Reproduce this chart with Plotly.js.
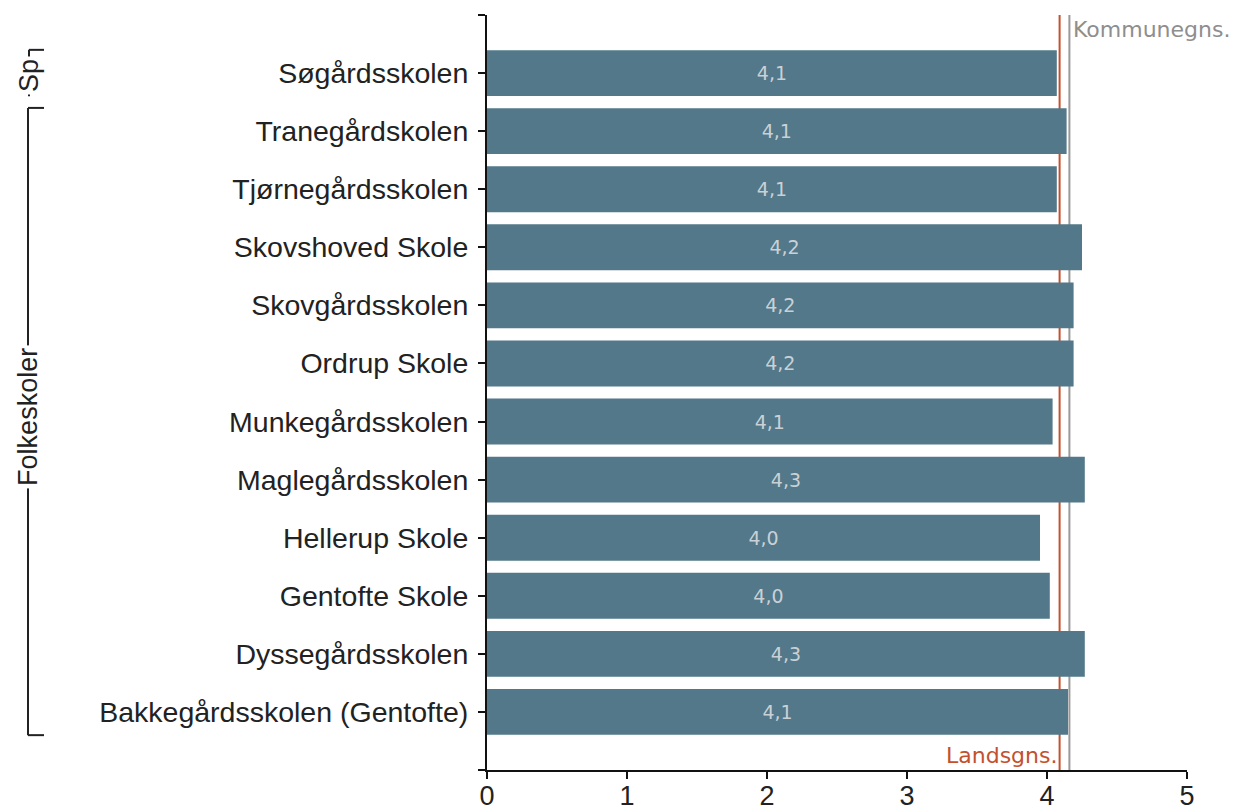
<!DOCTYPE html>
<html>
<head>
<meta charset="utf-8">
<script src="https://cdn.plot.ly/plotly-3.0.1.min.js"></script>
<style>html,body{margin:0;padding:0;background:#fff;}#chart{width:1239px;height:812px;}</style>
</head>
<body>
<div id="chart"></div>
<script>
// ---- data ----
const schools = [
  "Søgårdsskolen",
  "Tranegårdskolen",
  "Tjørnegårdsskolen",
  "Skovshoved Skole",
  "Skovgårdsskolen",
  "Ordrup Skole",
  "Munkegårdsskolen",
  "Maglegårdsskolen",
  "Hellerup Skole",
  "Gentofte Skole",
  "Dyssegårdsskolen",
  "Bakkegårdsskolen (Gentofte)"
];
const values = [4.07, 4.14, 4.07, 4.25, 4.19, 4.19, 4.04, 4.27, 3.95, 4.02, 4.27, 4.15];
const valueLabels = ["4,1","4,1","4,1","4,2","4,2","4,2","4,1","4,3","4,0","4,0","4,3","4,1"];
const landsgns = 4.09;
const kommunegns = 4.16;
const groupNames = ["Sp", "Folkeskoler"];
const groupStart = [0, 1];
const groupEnd = [0, 11];
const xTicks = [0, 1, 2, 3, 4, 5];

// ---- layout helpers ----
const L = 487, R = 52, T = 15, B = 42, W = 1239, H = 812;
const plotW = W - L - R;
const px2paper = p => (p - L) / plotW;

const idx = schools.map((_, i) => i);
const tickvals = [-1].concat(idx).concat([schools.length]);
const ticktext = [""].concat(schools).concat([""]);

const trace = {
  type: "bar",
  orientation: "h",
  x: values,
  y: idx,
  width: 0.79,
  marker: {color: "#52788a", line: {width: 0}},
  text: valueLabels,
  textposition: "inside",
  insidetextanchor: "middle",
  textangle: 0,
  constraintext: "none",
  textfont: {family: "DejaVu Sans, Verdana, sans-serif", size: 19, color: "#c9d1d6"},
  hoverinfo: "skip",
  cliponaxis: false
};

const shapes = [
  {type: "line", xref: "x", yref: "paper", x0: landsgns, x1: landsgns, y0: 0, y1: 1,
   line: {color: "#c4502c", width: 2}, layer: "below"},
  {type: "line", xref: "x", yref: "paper", x0: kommunegns, x1: kommunegns, y0: 0, y1: 1,
   line: {color: "#9a9a9a", width: 2}, layer: "below"}
];
const annotations = [
  {xref: "x", yref: "paper", x: kommunegns, y: 1 - (30 - T) / (H - T - B), xanchor: "left", yanchor: "middle",
   xshift: 2, text: "Kommunegns.", showarrow: false,
   font: {family: "DejaVu Sans, Verdana, sans-serif", size: 22, color: "#8e8e8e"}},
  {xref: "x", yref: "paper", x: landsgns, y: (H - B - 755) / (H - T - B), xanchor: "right", yanchor: "middle",
   xshift: -1, text: "Landsgns.", showarrow: false,
   font: {family: "DejaVu Sans, Verdana, sans-serif", size: 22, color: "#c4502c"}}
];

// group brackets
const bx = [px2paper(29), px2paper(28)];
groupNames.forEach((g, k) => {
  const y0 = groupStart[k] - 0.4, y1 = groupEnd[k] + 0.4;
  const xv = bx[k], xt = px2paper(44);
  shapes.push({type: "line", xref: "paper", yref: "y", x0: xv, x1: xv, y0: y0, y1: y1,
               line: {color: "#222", width: 2}});
  shapes.push({type: "line", xref: "paper", yref: "y", x0: xv, x1: xt, y0: y0, y1: y0,
               line: {color: "#222", width: 2}});
  if (k > 0) {
    shapes.push({type: "line", xref: "paper", yref: "y", x0: xv, x1: xt, y0: y1, y1: y1,
                 line: {color: "#222", width: 2}});
  }
  annotations.push({xref: "paper", yref: "y", x: xv, y: (groupStart[k] + groupEnd[k]) / 2 - (k > 0 ? 0.08 : -0.05),
    text: g, textangle: -90, showarrow: false, xanchor: "center", yanchor: "middle",
    bgcolor: "#ffffff", borderpad: 2,
    font: {family: "Liberation Sans, Arial, sans-serif", size: 27, color: "#222"}});
});

const layout = {
  width: W, height: H,
  margin: {l: L, r: R, t: T, b: B, pad: 0},
  paper_bgcolor: "#fff", plot_bgcolor: "#fff",
  showlegend: false,
  bargap: 0.2,
  xaxis: {
    range: [0, 5], tickvals: xTicks, ticktext: xTicks.map(String),
    showgrid: false, zeroline: false, showline: true, linecolor: "#111", linewidth: 2,
    ticks: "outside", ticklen: 7, tickwidth: 2, tickcolor: "#111",
    ticklabelstandoff: -6,
    tickfont: {family: "Liberation Sans, Arial, sans-serif", size: 27, color: "#222"},
    fixedrange: true
  },
  yaxis: {
    range: [schools.length, -1], tickvals: tickvals, ticktext: ticktext,
    showgrid: false, zeroline: false, showline: true, linecolor: "#111", linewidth: 2,
    ticks: "outside", ticklen: 7, tickwidth: 2, tickcolor: "#111",
    ticklabelstandoff: 4,
    tickfont: {family: "Liberation Sans, Arial, sans-serif", size: 28.5, color: "#222"},
    fixedrange: true
  },
  shapes: shapes,
  annotations: annotations
};

Plotly.newPlot("chart", [trace], layout, {displayModeBar: false, staticPlot: true});
</script>
</body>
</html>
